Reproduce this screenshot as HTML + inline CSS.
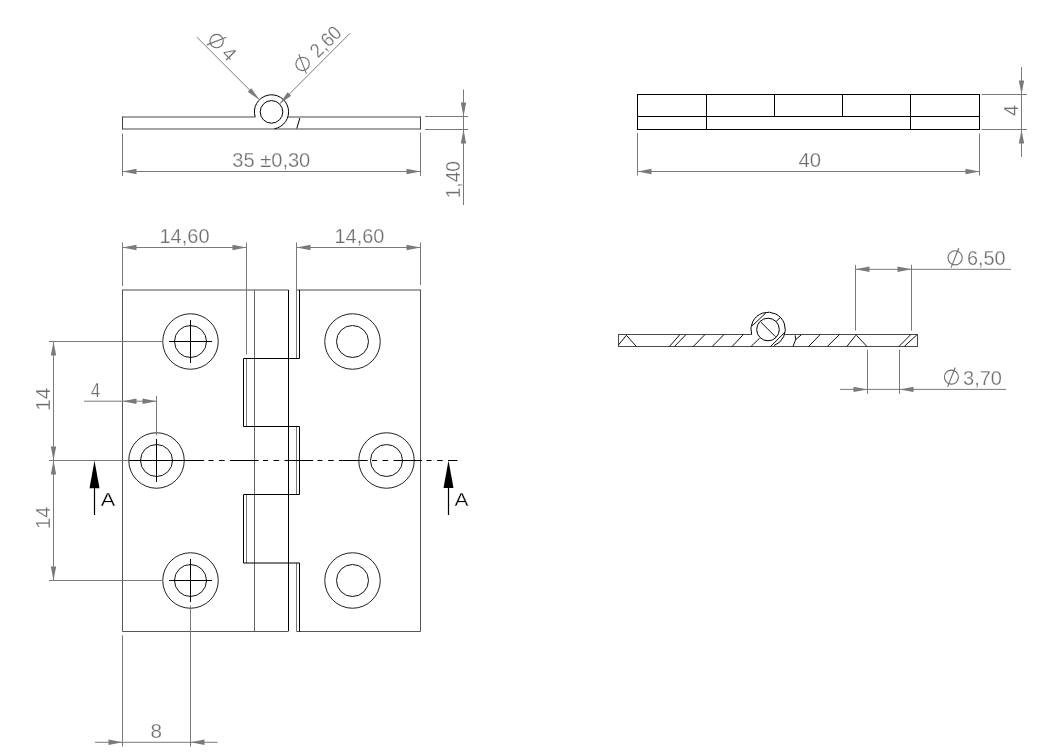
<!DOCTYPE html>
<html><head><meta charset="utf-8"><style>
html,body{margin:0;padding:0;background:#fff;}
svg{display:block;will-change:transform;font-family:"Liberation Sans",sans-serif;}
</style></head><body>
<svg width="1044" height="752" viewBox="0 0 1044 752">
<rect width="1044" height="752" fill="#fff"/>
<line x1="122.5" y1="117" x2="255.3" y2="117" stroke="#4a4a4a" stroke-width="1" />
<line x1="288.2" y1="117" x2="420.5" y2="117" stroke="#4a4a4a" stroke-width="1" />
<line x1="122.5" y1="129" x2="420.5" y2="129" stroke="#4a4a4a" stroke-width="1" />
<line x1="122.5" y1="116.5" x2="122.5" y2="129.5" stroke="#444" stroke-width="1" />
<line x1="420.5" y1="116.5" x2="420.5" y2="129.5" stroke="#444" stroke-width="1" />
<path d="M255.15,116.90 A17.1,17.1 0 1 1 274.47,128.74" fill="none" stroke="#000" stroke-width="1"/>
<circle cx="271.5" cy="111.9" r="11.3" fill="none" stroke="#000" stroke-width="1"/>
<line x1="299.8" y1="118" x2="296.8" y2="128.5" stroke="#000" stroke-width="1" />
<line x1="122.5" y1="133.5" x2="122.5" y2="176" stroke="#7a7a7a" stroke-width="1" />
<line x1="420.5" y1="132.5" x2="420.5" y2="176" stroke="#7a7a7a" stroke-width="1" />
<line x1="122.5" y1="171.5" x2="420.5" y2="171.5" stroke="#7a7a7a" stroke-width="1" />
<polygon points="122.50,171.50 136.50,168.80 136.50,174.20" fill="#7a7a7a"/>
<polygon points="420.50,171.50 406.50,174.20 406.50,168.80" fill="#7a7a7a"/>
<text x="232.3" y="166.8" font-size="20" fill="#6e6e6e" text-anchor="start" stroke="#fff" stroke-width="0.25" textLength="78" lengthAdjust="spacingAndGlyphs" >35 ±0,30</text>
<line x1="425" y1="116.5" x2="468" y2="116.5" stroke="#7a7a7a" stroke-width="1" />
<line x1="425" y1="129.5" x2="468" y2="129.5" stroke="#7a7a7a" stroke-width="1" />
<line x1="463.5" y1="89.5" x2="463.5" y2="205" stroke="#7a7a7a" stroke-width="1" />
<polygon points="463.50,116.50 460.80,102.50 466.20,102.50" fill="#7a7a7a"/>
<polygon points="463.50,129.50 466.20,143.50 460.80,143.50" fill="#7a7a7a"/>
<text transform="translate(459.8,198.3) rotate(-90)" x="0" y="0" font-size="20" fill="#6e6e6e" text-anchor="start" stroke="#fff" stroke-width="0.25" textLength="37.3" lengthAdjust="spacingAndGlyphs" >1,40</text>
<line x1="196.8" y1="37.1" x2="259.40859" y2="99.80859000000001" stroke="#7a7a7a" stroke-width="1" />
<polygon points="259.41,99.81 247.74,91.68 251.28,88.14" fill="#7a7a7a"/>
<line x1="350.1" y1="33.2" x2="279.49023" y2="103.90977000000001" stroke="#7a7a7a" stroke-width="1" />
<polygon points="279.49,103.91 287.62,92.24 291.16,95.78" fill="#7a7a7a"/>
<circle cx="216.59898987322333" cy="41.05979797464467" r="6.7" fill="none" stroke="#6e6e6e" stroke-width="1.1"/>
<line x1="206.840916292849" y1="44.87817459305202" x2="226.3570634535977" y2="37.24142135623731" stroke="#6e6e6e" stroke-width="1.1" />
<text transform="translate(220.42,54.78) rotate(45)" x="0" y="0" font-size="20" fill="#6e6e6e" text-anchor="start" stroke="#fff" stroke-width="0.25" >4</text>
<circle cx="302.582424304264" cy="63.88843430349616" r="6.7" fill="none" stroke="#6e6e6e" stroke-width="1.1"/>
<line x1="306.4008009226714" y1="73.64650788387051" x2="298.76404768585667" y2="54.130360723121804" stroke="#6e6e6e" stroke-width="1.1" />
<text transform="translate(318.07,58.87) rotate(-45)" x="0" y="0" font-size="20" fill="#6e6e6e" text-anchor="start" stroke="#fff" stroke-width="0.25" textLength="35" lengthAdjust="spacingAndGlyphs" >2,60</text>
<line x1="637.5" y1="94.5" x2="979.5" y2="94.5" stroke="#000" stroke-width="1" />
<line x1="637.5" y1="116.5" x2="979.5" y2="116.5" stroke="#000" stroke-width="1" />
<line x1="637.5" y1="129.5" x2="979.5" y2="129.5" stroke="#000" stroke-width="1" />
<line x1="637.5" y1="94" x2="637.5" y2="130" stroke="#000" stroke-width="1" />
<line x1="979.5" y1="94" x2="979.5" y2="130" stroke="#000" stroke-width="1" />
<line x1="706.5" y1="94.5" x2="706.5" y2="129.5" stroke="#000" stroke-width="1" />
<line x1="910.5" y1="94.5" x2="910.5" y2="129.5" stroke="#000" stroke-width="1" />
<line x1="774.5" y1="94.5" x2="774.5" y2="116.5" stroke="#000" stroke-width="1" />
<line x1="842.5" y1="94.5" x2="842.5" y2="116.5" stroke="#000" stroke-width="1" />
<line x1="637.5" y1="133" x2="637.5" y2="175.5" stroke="#7a7a7a" stroke-width="1" />
<line x1="979.5" y1="133.5" x2="979.5" y2="175.5" stroke="#7a7a7a" stroke-width="1" />
<line x1="637.5" y1="171.5" x2="979.5" y2="171.5" stroke="#7a7a7a" stroke-width="1" />
<polygon points="637.50,171.50 651.50,168.80 651.50,174.20" fill="#7a7a7a"/>
<polygon points="979.50,171.50 965.50,174.20 965.50,168.80" fill="#7a7a7a"/>
<text x="798.5" y="167" font-size="20" fill="#6e6e6e" text-anchor="start" stroke="#fff" stroke-width="0.25" textLength="22.5" lengthAdjust="spacingAndGlyphs" >40</text>
<line x1="981.5" y1="94.5" x2="1027" y2="94.5" stroke="#7a7a7a" stroke-width="1" />
<line x1="981.5" y1="129.5" x2="1027" y2="129.5" stroke="#7a7a7a" stroke-width="1" />
<line x1="1021.5" y1="67" x2="1021.5" y2="157" stroke="#7a7a7a" stroke-width="1" />
<polygon points="1021.50,94.50 1018.80,80.50 1024.20,80.50" fill="#7a7a7a"/>
<polygon points="1021.50,129.50 1024.20,143.50 1018.80,143.50" fill="#7a7a7a"/>
<text transform="translate(1018,116) rotate(-90)" x="0" y="0" font-size="20" fill="#6e6e6e" text-anchor="start" stroke="#fff" stroke-width="0.25" >4</text>
<line x1="122.5" y1="290" x2="288.5" y2="290" stroke="#4a4a4a" stroke-width="1" />
<line x1="296.5" y1="290" x2="420.5" y2="290" stroke="#4a4a4a" stroke-width="1" />
<line x1="122.5" y1="631.5" x2="288.5" y2="631.5" stroke="#555" stroke-width="1" />
<line x1="296.5" y1="631.5" x2="420.5" y2="631.5" stroke="#555" stroke-width="1" />
<line x1="122.5" y1="289.5" x2="122.5" y2="631.5" stroke="#555" stroke-width="1" />
<line x1="420.5" y1="289.5" x2="420.5" y2="631.5" stroke="#555" stroke-width="1" />
<line x1="254.5" y1="290" x2="254.5" y2="631" stroke="#666" stroke-width="1" />
<line x1="288.5" y1="290" x2="288.5" y2="631" stroke="#000" stroke-width="1" />
<line x1="299.5" y1="290" x2="299.5" y2="358.5" stroke="#000" stroke-width="1" />
<line x1="296.5" y1="290" x2="296.5" y2="358.5" stroke="#777" stroke-width="1" />
<line x1="243.5" y1="358.5" x2="243.5" y2="426.5" stroke="#000" stroke-width="1" />
<line x1="246.5" y1="358.5" x2="246.5" y2="426.5" stroke="#777" stroke-width="1" />
<line x1="299.5" y1="426.5" x2="299.5" y2="494.5" stroke="#000" stroke-width="1" />
<line x1="296.5" y1="426.5" x2="296.5" y2="494.5" stroke="#777" stroke-width="1" />
<line x1="243.5" y1="494.5" x2="243.5" y2="563" stroke="#000" stroke-width="1" />
<line x1="246.5" y1="494.5" x2="246.5" y2="563" stroke="#777" stroke-width="1" />
<line x1="299.5" y1="563" x2="299.5" y2="631.5" stroke="#000" stroke-width="1" />
<line x1="296.5" y1="563" x2="296.5" y2="631.5" stroke="#777" stroke-width="1" />
<line x1="243.5" y1="358.5" x2="299.5" y2="358.5" stroke="#000" stroke-width="1" />
<line x1="243.5" y1="426.5" x2="299.5" y2="426.5" stroke="#000" stroke-width="1" />
<line x1="243.5" y1="494.5" x2="299.5" y2="494.5" stroke="#000" stroke-width="1" />
<line x1="243.5" y1="563" x2="299.5" y2="563" stroke="#000" stroke-width="1" />
<circle cx="190.5" cy="341.5" r="27.75" fill="none" stroke="#222" stroke-width="1"/>
<circle cx="190.5" cy="341.5" r="16" fill="none" stroke="#111" stroke-width="1"/>
<line x1="169.0" y1="341.5" x2="212.0" y2="341.5" stroke="#000" stroke-width="1" />
<line x1="190.5" y1="320.0" x2="190.5" y2="363.0" stroke="#000" stroke-width="1" />
<circle cx="156.5" cy="460.5" r="27.75" fill="none" stroke="#222" stroke-width="1"/>
<circle cx="156.5" cy="460.5" r="16" fill="none" stroke="#111" stroke-width="1"/>
<line x1="135.0" y1="460.5" x2="178.0" y2="460.5" stroke="#000" stroke-width="1" />
<line x1="156.5" y1="439.0" x2="156.5" y2="482.0" stroke="#000" stroke-width="1" />
<circle cx="190.5" cy="580.5" r="27.75" fill="none" stroke="#222" stroke-width="1"/>
<circle cx="190.5" cy="580.5" r="16" fill="none" stroke="#111" stroke-width="1"/>
<line x1="169.0" y1="580.5" x2="212.0" y2="580.5" stroke="#000" stroke-width="1" />
<line x1="190.5" y1="559.0" x2="190.5" y2="602.0" stroke="#000" stroke-width="1" />
<circle cx="352.5" cy="341.5" r="27.75" fill="none" stroke="#222" stroke-width="1"/>
<circle cx="352.5" cy="341.5" r="16" fill="none" stroke="#111" stroke-width="1"/>
<circle cx="386.5" cy="460.5" r="27.75" fill="none" stroke="#222" stroke-width="1"/>
<circle cx="386.5" cy="460.5" r="16" fill="none" stroke="#111" stroke-width="1"/>
<circle cx="352.5" cy="580.5" r="27.75" fill="none" stroke="#222" stroke-width="1"/>
<circle cx="352.5" cy="580.5" r="16" fill="none" stroke="#111" stroke-width="1"/>
<line x1="128.6" y1="460.5" x2="457.5" y2="460.5" stroke="#000" stroke-width="1" stroke-dasharray="28.6 4.4 5 5.6 5.6 5.3" stroke-dashoffset="7.6"/>
<line x1="94.5" y1="488" x2="94.5" y2="515" stroke="#000" stroke-width="1.2" />
<polygon points="94.50,460.70 99.50,488.20 89.50,488.20" fill="#000"/>
<line x1="448.5" y1="488" x2="448.5" y2="515" stroke="#000" stroke-width="1.2" />
<polygon points="448.50,460.50 453.50,488.00 443.50,488.00" fill="#000"/>
<text x="100.8" y="506.2" font-size="18.5" fill="#000" text-anchor="start" stroke="#fff" stroke-width="0.3" textLength="14.5" lengthAdjust="spacingAndGlyphs" >A</text>
<text x="454.6" y="505.7" font-size="18.5" fill="#000" text-anchor="start" stroke="#fff" stroke-width="0.3" textLength="14" lengthAdjust="spacingAndGlyphs" >A</text>
<line x1="122.5" y1="242.5" x2="122.5" y2="286" stroke="#7a7a7a" stroke-width="1" />
<line x1="246.5" y1="242.5" x2="246.5" y2="354.5" stroke="#7a7a7a" stroke-width="1" />
<line x1="122.5" y1="247.5" x2="246.5" y2="247.5" stroke="#7a7a7a" stroke-width="1" />
<polygon points="122.50,247.50 136.50,244.80 136.50,250.20" fill="#7a7a7a"/>
<polygon points="246.50,247.50 232.50,250.20 232.50,244.80" fill="#7a7a7a"/>
<text x="159.5" y="243" font-size="20" fill="#6e6e6e" text-anchor="start" stroke="#fff" stroke-width="0.25" textLength="50" lengthAdjust="spacingAndGlyphs" >14,60</text>
<line x1="296.5" y1="242.5" x2="296.5" y2="290" stroke="#7a7a7a" stroke-width="1" />
<line x1="420.5" y1="242.5" x2="420.5" y2="285" stroke="#7a7a7a" stroke-width="1" />
<line x1="296.5" y1="247.5" x2="420.5" y2="247.5" stroke="#7a7a7a" stroke-width="1" />
<polygon points="296.50,247.50 310.50,244.80 310.50,250.20" fill="#7a7a7a"/>
<polygon points="420.50,247.50 406.50,250.20 406.50,244.80" fill="#7a7a7a"/>
<text x="334.5" y="243" font-size="20" fill="#6e6e6e" text-anchor="start" stroke="#fff" stroke-width="0.25" textLength="49.8" lengthAdjust="spacingAndGlyphs" >14,60</text>
<line x1="49" y1="341.5" x2="162.5" y2="341.5" stroke="#7a7a7a" stroke-width="1" />
<line x1="49" y1="460.5" x2="128.6" y2="460.5" stroke="#7a7a7a" stroke-width="1" />
<line x1="49" y1="580.5" x2="163" y2="580.5" stroke="#7a7a7a" stroke-width="1" />
<line x1="53.5" y1="341.5" x2="53.5" y2="580.5" stroke="#7a7a7a" stroke-width="1" />
<polygon points="53.50,341.50 56.20,355.50 50.80,355.50" fill="#7a7a7a"/>
<polygon points="53.50,460.50 50.80,446.50 56.20,446.50" fill="#7a7a7a"/>
<polygon points="53.50,460.50 56.20,474.50 50.80,474.50" fill="#7a7a7a"/>
<polygon points="53.50,580.50 50.80,566.50 56.20,566.50" fill="#7a7a7a"/>
<text transform="translate(50,410.8) rotate(-90)" x="0" y="0" font-size="20" fill="#6e6e6e" text-anchor="start" stroke="#fff" stroke-width="0.25" textLength="23.1" lengthAdjust="spacingAndGlyphs" >14</text>
<text transform="translate(50,528.9) rotate(-90)" x="0" y="0" font-size="20" fill="#6e6e6e" text-anchor="start" stroke="#fff" stroke-width="0.25" textLength="22.4" lengthAdjust="spacingAndGlyphs" >14</text>
<line x1="156.5" y1="395.8" x2="156.5" y2="435.5" stroke="#7a7a7a" stroke-width="1" />
<line x1="84" y1="401.2" x2="156.5" y2="401.2" stroke="#7a7a7a" stroke-width="1" />
<polygon points="122.50,401.20 136.50,398.50 136.50,403.90" fill="#7a7a7a"/>
<polygon points="156.50,401.20 142.50,403.90 142.50,398.50" fill="#7a7a7a"/>
<text x="90.8" y="396.8" font-size="20" fill="#6e6e6e" text-anchor="start" stroke="#fff" stroke-width="0.25" textLength="9.5" lengthAdjust="spacingAndGlyphs" >4</text>
<line x1="122.5" y1="635.3" x2="122.5" y2="746.5" stroke="#7a7a7a" stroke-width="1" />
<line x1="190.5" y1="605.4" x2="190.5" y2="746.5" stroke="#7a7a7a" stroke-width="1" />
<line x1="95" y1="742.3" x2="217.5" y2="742.3" stroke="#7a7a7a" stroke-width="1" />
<polygon points="122.50,742.30 108.50,745.00 108.50,739.60" fill="#7a7a7a"/>
<polygon points="190.50,742.30 204.50,739.60 204.50,745.00" fill="#7a7a7a"/>
<text x="150.5" y="737.8" font-size="20" fill="#6e6e6e" text-anchor="start" stroke="#fff" stroke-width="0.25" textLength="11.5" lengthAdjust="spacingAndGlyphs" >8</text>
<line x1="618.4" y1="334.5" x2="751.5" y2="334.5" stroke="#4a4a4a" stroke-width="1" />
<line x1="784.5" y1="334.5" x2="917.5" y2="334.5" stroke="#4a4a4a" stroke-width="1" />
<line x1="618.4" y1="346.5" x2="917.5" y2="346.5" stroke="#4a4a4a" stroke-width="1" />
<line x1="618.5" y1="334" x2="618.5" y2="347" stroke="#4a4a4a" stroke-width="1" />
<line x1="917.5" y1="334" x2="917.5" y2="347" stroke="#4a4a4a" stroke-width="1" />
<path d="M751.3,334.5 L751.65,334.43 A17.2,17.2 0 1 1 773.98,345.56" fill="none" stroke="#000" stroke-width="1"/>
<circle cx="768" cy="329.5" r="11.3" fill="none" stroke="#000" stroke-width="1"/>
<line x1="618.4" y1="345" x2="626.4" y2="335.3" stroke="#111" stroke-width="1" />
<line x1="626.4" y1="335.3" x2="636.3" y2="346.4" stroke="#111" stroke-width="1" />
<line x1="679.8" y1="334.7" x2="669.5" y2="346.4" stroke="#111" stroke-width="1" />
<line x1="685.9" y1="334.7" x2="674.5" y2="346.4" stroke="#111" stroke-width="1" />
<line x1="705" y1="334.5" x2="693.4" y2="346.4" stroke="#111" stroke-width="1" />
<line x1="724" y1="334.5" x2="712.3" y2="346.4" stroke="#111" stroke-width="1" />
<line x1="743.4" y1="334.5" x2="732.2" y2="346.4" stroke="#111" stroke-width="1" />
<line x1="759.7" y1="338.1" x2="751.1" y2="346.4" stroke="#111" stroke-width="1" />
<line x1="752.1" y1="325.9" x2="765.9" y2="312.9" stroke="#111" stroke-width="1" />
<line x1="776.2" y1="321.3" x2="780.4" y2="317.6" stroke="#111" stroke-width="1" />
<line x1="770.7" y1="346.3" x2="784.5" y2="332.7" stroke="#111" stroke-width="1" />
<line x1="760.7" y1="322" x2="775.8" y2="337" stroke="#111" stroke-width="1" />
<line x1="801.2" y1="334.9" x2="795.6" y2="339.7" stroke="#111" stroke-width="1" />
<line x1="795.2" y1="335.3" x2="795.6" y2="339.7" stroke="#111" stroke-width="1" />
<line x1="795.6" y1="339.7" x2="793" y2="346.6" stroke="#111" stroke-width="1" />
<line x1="820.2" y1="334.5" x2="808.5" y2="346.6" stroke="#111" stroke-width="1" />
<line x1="839.5" y1="334.5" x2="827.4" y2="346.4" stroke="#111" stroke-width="1" />
<line x1="855.8" y1="335.3" x2="846.9" y2="346.4" stroke="#111" stroke-width="1" />
<line x1="856.4" y1="335.3" x2="866.9" y2="346.4" stroke="#111" stroke-width="1" />
<line x1="910.6" y1="334.8" x2="899" y2="346.4" stroke="#111" stroke-width="1" />
<line x1="916.9" y1="334.8" x2="904.3" y2="346.4" stroke="#111" stroke-width="1" />
<line x1="855.5" y1="264.9" x2="855.5" y2="330.6" stroke="#7a7a7a" stroke-width="1" />
<line x1="911.5" y1="264.9" x2="911.5" y2="330.6" stroke="#7a7a7a" stroke-width="1" />
<line x1="855.5" y1="269.3" x2="1011" y2="269.3" stroke="#7a7a7a" stroke-width="1" />
<polygon points="855.50,269.30 869.50,266.60 869.50,272.00" fill="#7a7a7a"/>
<polygon points="911.50,269.30 897.50,272.00 897.50,266.60" fill="#7a7a7a"/>
<circle cx="955.1" cy="257.8" r="7.1" fill="none" stroke="#6e6e6e" stroke-width="1.1"/>
<line x1="958.8" y1="248" x2="951.1" y2="267.6" stroke="#6e6e6e" stroke-width="1.1" />
<text x="967" y="264.9" font-size="20" fill="#6e6e6e" text-anchor="start" stroke="#fff" stroke-width="0.25" textLength="38.6" lengthAdjust="spacingAndGlyphs" >6,50</text>
<line x1="867.5" y1="349.8" x2="867.5" y2="393.9" stroke="#7a7a7a" stroke-width="1" />
<line x1="899.5" y1="349.8" x2="899.5" y2="393.9" stroke="#7a7a7a" stroke-width="1" />
<line x1="840" y1="389.4" x2="1006.2" y2="389.4" stroke="#7a7a7a" stroke-width="1" />
<polygon points="867.50,389.40 853.50,392.10 853.50,386.70" fill="#7a7a7a"/>
<polygon points="899.50,389.40 913.50,386.70 913.50,392.10" fill="#7a7a7a"/>
<circle cx="951.4" cy="377.1" r="7" fill="none" stroke="#6e6e6e" stroke-width="1.1"/>
<line x1="955.2" y1="367.5" x2="947.6" y2="386.9" stroke="#6e6e6e" stroke-width="1.1" />
<text x="963" y="385.2" font-size="20" fill="#6e6e6e" text-anchor="start" stroke="#fff" stroke-width="0.25" textLength="39" lengthAdjust="spacingAndGlyphs" >3,70</text>
</svg></body></html>
